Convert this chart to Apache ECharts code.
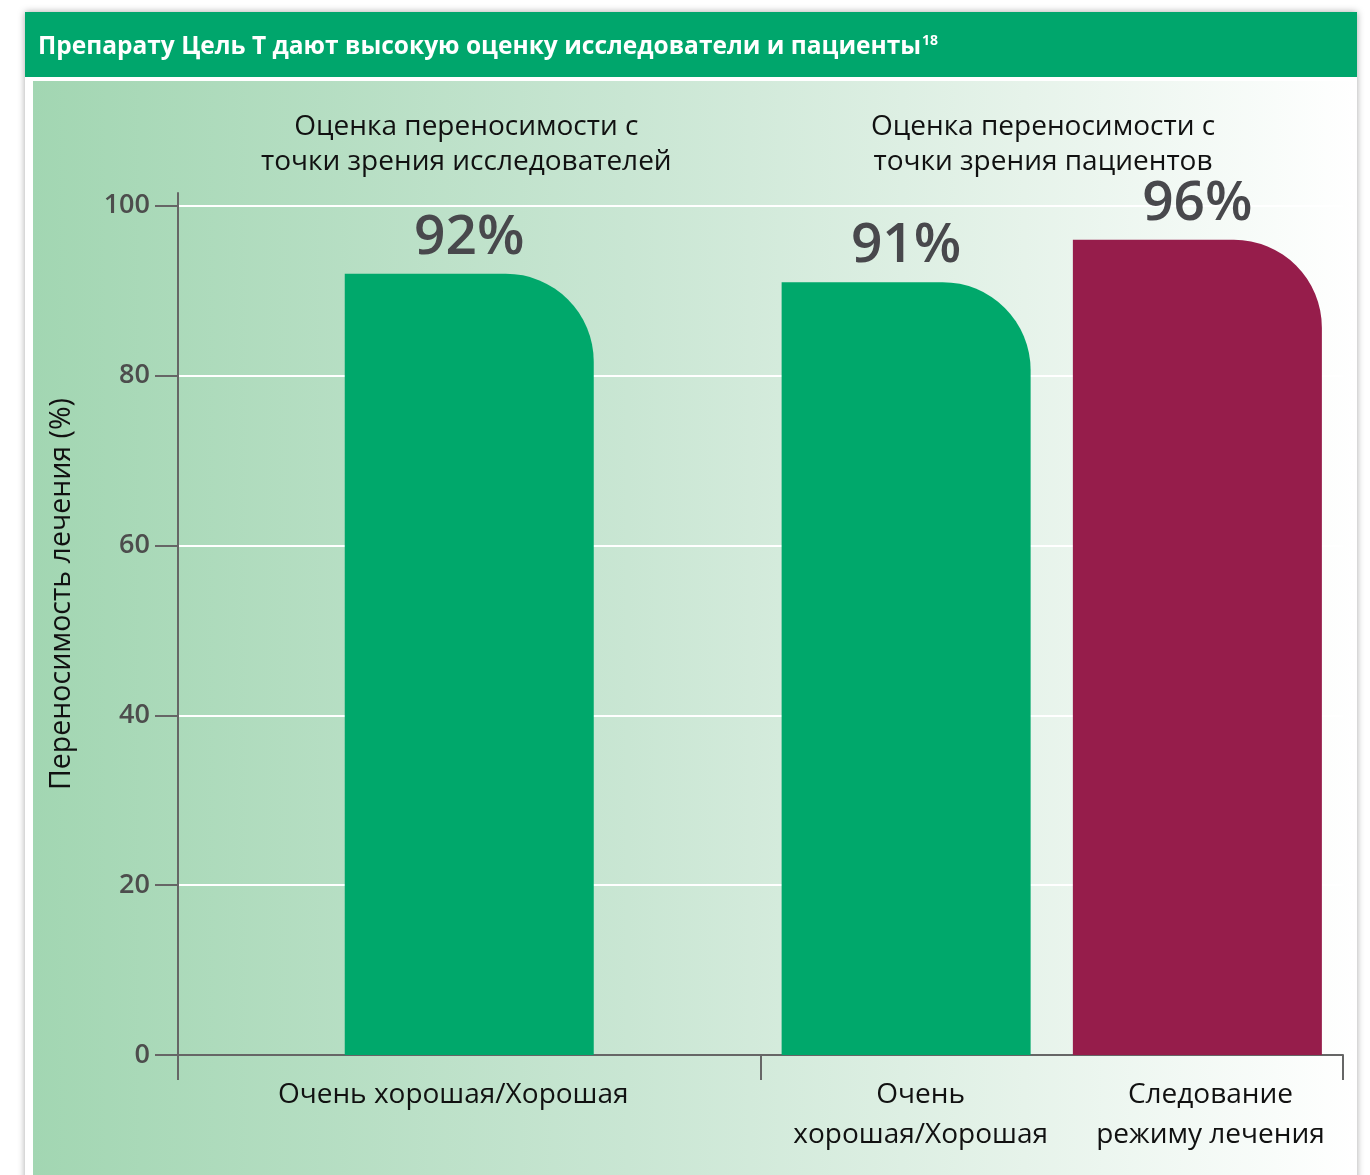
<!DOCTYPE html>
<html><head><meta charset="utf-8">
<script src="https://cdn.jsdelivr.net/npm/echarts@6/dist/echarts.min.js"></script>
<style>
html,body{margin:0;padding:0;background:#fff;}
#wrap{position:relative;width:1370px;height:1175px;overflow:hidden;background:#fff;}
#panel{position:absolute;left:25px;top:12px;width:1332px;height:1200px;background:#fff;box-shadow:0 0 7px rgba(0,0,0,0.35);}
#head{position:absolute;left:0;top:0;width:1332px;height:65px;background:#00A66C;}
#grad{position:absolute;left:8px;top:69px;width:1322px;height:1200px;background:linear-gradient(to right,#a2d6b2 0%,#c9e6d3 45%,#e6f3ea 75%,#ffffff 100%);}
#chart{position:absolute;left:0;top:0;width:1370px;height:1175px;}
</style></head>
<body><div id="wrap"><div id="panel"><div id="head"></div><div id="grad"></div></div><div id="chart"></div></div>
<script>
// ---- data ----
const titleText = 'Препарату Цель Т дают высокую оценку исследователи и пациенты';
const titleSup = '18';
const groupTitles = ['Оценка переносимости с\nточки зрения исследователей', 'Оценка переносимости с\nточки зрения пациентов'];
const barLabels = ['Очень хорошая/Хорошая', 'Очень\nхорошая/Хорошая', 'Следование\nрежиму лечения'];
const barValues = [92, 91, 96];
const yTicks = [0, 20, 40, 60, 80, 100];
const yAxisName = 'Переносимость лечения (%)';

// ---- layout ----
const xPos = [1, 2.5, 3.5];
const labelPos = [0.945, 2.55, 3.545];
const groupPos = [0.99, 2.97];
const groupBounds = [0, 2, 4];
const barColors = ['#00A86B', '#961D4B'];
const colorOf = [barColors[0], barColors[0], barColors[1]];
const font = '"Open Sans", "Noto Sans", sans-serif';

const chart = echarts.init(document.getElementById('chart'), null, {renderer: 'canvas'});
chart.setOption({
  backgroundColor: 'transparent',
  animation: false,
  title: {
    left: 33, top: 29,
    text: '{t|' + titleText + '}{s|' + titleSup + '}',
    textStyle: {
      rich: {
        t: {color: '#fff', fontFamily: font, fontWeight: 'bold', fontSize: 24.5},
        s: {color: '#fff', fontFamily: font, fontWeight: 'bold', fontSize: 14, padding: [0, 0, 13, 1]}
      }
    }
  },
  grid: {left: 178, right: 27, top: 193, bottom: 120, containLabel: false},
  xAxis: [{
    type: 'value', min: 0, max: 4, position: 'bottom',
    axisLine: {show: true, onZero: false, lineStyle: {color: '#666', width: 2}},
    axisTick: {show: true, customValues: groupBounds, length: 25, lineStyle: {color: '#666', width: 2}},
    axisLabel: {
      customValues: labelPos, margin: 20, lineHeight: 40,
      fontFamily: font, fontSize: 28, color: '#111',
      formatter: v => { const i = labelPos.indexOf(v); return i >= 0 ? barLabels[i] : ''; }
    },
    splitLine: {show: false}
  }, {
    type: 'value', min: 0, max: 4, position: 'top',
    axisLine: {show: false}, axisTick: {show: false}, splitLine: {show: false},
    axisLabel: {
      customValues: groupPos, margin: 13, lineHeight: 35,
      fontFamily: font, fontSize: 28, color: '#111',
      formatter: v => { const i = groupPos.indexOf(v); return i >= 0 ? groupTitles[i] : ''; }
    }
  }],
  yAxis: {
    type: 'value', min: 0, max: 101.5,
    axisLine: {show: true, lineStyle: {color: '#666', width: 2}},
    axisTick: {show: true, customValues: yTicks, length: 23, lineStyle: {color: '#666', width: 2}},
    axisLabel: {customValues: yTicks, margin: 28, fontFamily: font, fontSize: 27, fontWeight: 600, color: '#4d4d4d'},
    splitLine: {show: true, lineStyle: {color: '#ffffff', width: 2}}
  },
  graphic: [{
    type: 'text', x: 62, y: 594, rotation: Math.PI / 2,
    style: {text: yAxisName, fontFamily: font, fontSize: 28.5, fill: '#111', align: 'center', verticalAlign: 'middle'}
  }],
  series: [{
    type: 'bar', xAxisIndex: 0, barWidth: 249,
    data: barValues.map((v, i) => ({value: [xPos[i], v], itemStyle: {color: colorOf[i], borderRadius: [0, 88, 0, 0]}})),
    label: {
      show: true, position: 'top', distance: 8,
      fontFamily: font, fontSize: 55, fontWeight: 600, color: '#48484c',
      formatter: p => p.value[1] + '%'
    }
  }]
});
</script></body></html>
